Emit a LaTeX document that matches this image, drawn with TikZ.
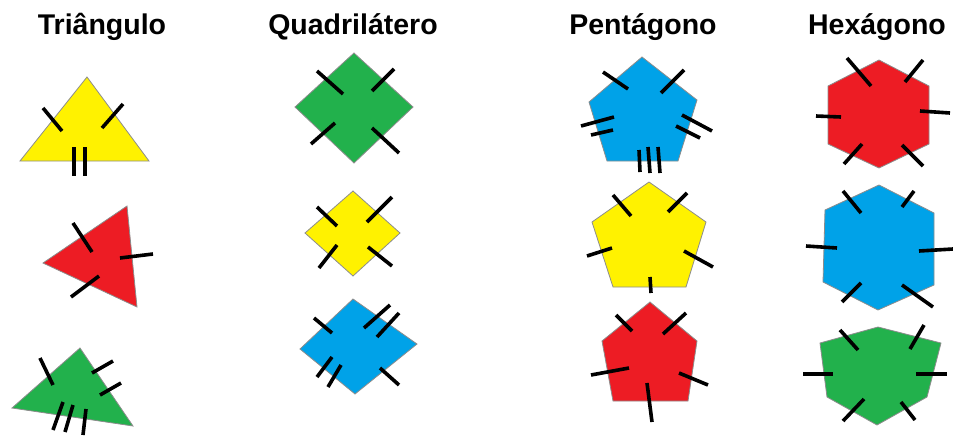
\documentclass[tikz,border=0pt]{standalone}
\usepackage{fontspec}
\setmainfont{Liberation Sans}
\definecolor{amarelo}{HTML}{FFF200}
\definecolor{vermelho}{HTML}{ED1C24}
\definecolor{verde}{HTML}{22B14C}
\definecolor{azul}{HTML}{00A2E8}
\tikzset{
  figura/.style={draw=black!45, line width=0.8pt, line join=miter},
  risco/.style={black, line width=3.6pt},
  titulo/.style={anchor=base, font=\bfseries\fontsize{28.5}{31}\selectfont}
}
\begin{document}
\begin{tikzpicture}[x=1pt,y=-1pt]
    \useasboundingbox (0,0) rectangle (953,437);
    % titulos
    \node[titulo] (tri) at (102,34) {Triângulo};
    \node[titulo] (quad) at (353,34) {Quadrilátero};
    \node[titulo] (pent) at (643,34) {Pentágono};
    \node[titulo] (hex) at (877,34) {Hexágono};
    % triangulos
    \filldraw[figura, fill=amarelo] (87,77) -- (20,161) -- (149,161) -- cycle;
    \filldraw[figura, fill=vermelho] (127,206) -- (43,263) -- (137,307) -- cycle;
    \filldraw[figura, fill=verde] (80,348) -- (12,408) -- (133,426) -- cycle;
    \foreach \xa/\ya/\xb/\yb in {43/108/62/131, 123/104/102/128, 74/147/74/176, 85/147/85/176,
      73/223/92/252, 120/258/153/254, 99/276/71/297,
      40/358/53/385, 113/361/92/373, 121/383/100/395,
      63/402/53/430, 73/405/65/432, 86/409/83/435}
      \draw[risco] (\xa,\ya) -- (\xb,\yb);
    % quadrilateros
    \filldraw[figura, fill=verde] (354,53) -- (295,107) -- (354,163) -- (413,107) -- cycle;
    \filldraw[figura, fill=amarelo] (353,191) -- (305,233) -- (353,276) -- (400,233) -- cycle;
    \filldraw[figura, fill=azul] (353,299) -- (300,349) -- (355,394) -- (417,344) -- cycle;
    \foreach \xa/\ya/\xb/\yb in {317/71/343/94, 394/69/372/91, 335/123/311/144, 372/128/399/153,
      317/207/337/226, 392/197/367/222, 337/245/319/268, 368/247/392/266,
      314/318/332/333, 390/305/364/328, 399/313/377/337,
      332/357/317/377, 341/365/328/387, 380/368/399/385}
      \draw[risco] (\xa,\ya) -- (\xb,\yb);
    % pentagonos
    \filldraw[figura, fill=azul] (642,57) -- (589,102) -- (607,161) -- (678,161) -- (697,100) -- cycle;
    \filldraw[figura, fill=amarelo] (649,182) -- (592,222) -- (613,287) -- (686,287) -- (706,222) -- cycle;
    \filldraw[figura, fill=vermelho] (650,302) -- (602,341) -- (613,401) -- (688,401) -- (697,341) -- cycle;
    \foreach \xa/\ya/\xb/\yb in {603/72/628/89, 684/70/661/93,
      614/117/581/126, 613/130/591/135, 682/115/712/131, 676/126/700/138,
      639/150/640/172, 648/147/650/173, 658/147/660/173,
      613/195/631/216, 687/193/668/212, 612/248/587/256, 684/251/713/267, 650/277/651/293,
      616/315/632/331, 686/313/663/334, 629/368/591/375, 679/373/708/385, 647/383/652/422}
      \draw[risco] (\xa,\ya) -- (\xb,\yb);
    % hexagonos
    \filldraw[figura, fill=vermelho] (879,60) -- (828,86) -- (828,144) -- (879,168) -- (929,144) -- (929,86) -- cycle;
    \filldraw[figura, fill=azul] (879,185) -- (825,210) -- (823,282) -- (878,310) -- (934,285) -- (934,213) -- cycle;
    \filldraw[figura, fill=verde] (878,327) -- (820,343) -- (827,397) -- (877,425) -- (927,397) -- (941,343) -- cycle;
    \foreach \xa/\ya/\xb/\yb in {847/58/871/86, 923/60/905/82, 816/116/841/117, 920/111/950/113,
      862/144/844/164, 902/145/923/166,
      843/191/861/213, 914/191/902/207, 806/246/837/248, 919/251/953/249,
      861/283/842/302, 902/285/933/307,
      840/330/858/350, 924/325/910/349, 803/374/833/374, 916/374/947/374,
      864/399/843/421, 901/402/915/420}
      \draw[risco] (\xa,\ya) -- (\xb,\yb);
\end{tikzpicture}
\end{document}
